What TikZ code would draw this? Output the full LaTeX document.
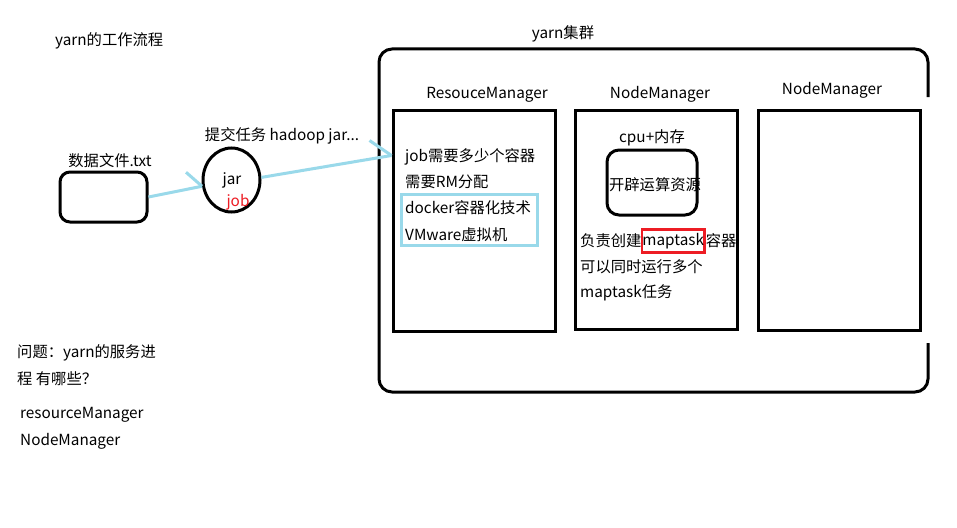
\documentclass[tikz,border=0pt]{standalone}
\usepackage{fontspec}
\setmainfont{Noto Sans CJK SC}
\usetikzlibrary{shapes.geometric,calc}
\definecolor{pblue}{HTML}{99D9EA}
\definecolor{pred}{HTML}{ED1C24}
\begin{document}
\begin{tikzpicture}[x=1pt,y=-1pt,
  txt/.style={inner sep=0pt,font=\fontsize{15.3}{18}\selectfont},
  lbl/.style={txt,anchor=west},
  blk/.style={draw=black,line width=3pt},
  blueline/.style={draw=pblue,line width=3pt},
  redbox/.style={draw=pred,line width=2.5pt}]
\useasboundingbox (0,0) rectangle (957,527);
\fill[white] (0,0) rectangle (957,527);
% titles
\node[lbl] (title) at (55,41) {yarn的工作流程};
\node[txt] (cl) at (563,34) {yarn集群};
% cluster frame
\draw[blk,rounded corners=13] (928,97) -- (928,49) -- (379,49) -- (379,392) -- (928,392) -- (928,343);
% managers
\node[txt] (rml) at (487,95) {ResouceManager};
\node[txt] (nm1l) at (660,94) {NodeManager};
\node[txt] (nm2l) at (832,90) {NodeManager};
\node[blk,minimum width=162,minimum height=221,inner sep=0pt] (rm) at (474,220.5) {};
\node[blk,minimum width=162,minimum height=219,inner sep=0pt] (nm1) at (656,219.5) {};
\node[blk,minimum width=162,minimum height=220,inner sep=0pt] (nm2) at (839,220) {};
% RM content
\node[lbl] (r1) at (405,157) {job需要多少个容器};
\node[lbl] (r2) at (405,182) {需要RM分配};
\node[lbl] (r3) at (405,208) {docker容器化技术};
\node[lbl] (r4) at (405,235) {VMware虚拟机};
\node[draw=pblue,line width=3pt,minimum width=136,minimum height=51,inner sep=0pt] (bb) at (469,219.5) {};
% NM1 content
\node[txt] (cpu) at (652,138) {cpu+内存};
\node[blk,rounded corners=12,minimum width=90,minimum height=65,inner sep=0pt] (res) at (652,182.5) {};
\node[txt] (kp) at (655,185) {开辟运算资源};
\node[lbl] (n1) at (580,241) {负责创建};
\node[txt,anchor=west,redbox,inner xsep=0.5pt,minimum height=23] (mt) at ($(n1.east)+(-1,0)$) {maptask};
\node[txt,anchor=west] (n1b) at (mt.east) {容器};
\node[lbl] (n2) at (580,267) {可以同时运行多个};
\node[lbl] (n3) at (580,293) {maptask任务};
% data file and jar
\node[txt] (dl) at (110,161) {数据文件.txt};
\node[blk,rounded corners=10,minimum width=87,minimum height=50,inner sep=0pt] (data) at (103.5,197) {};
\node[blk,ellipse,minimum width=57,minimum height=64,inner sep=0pt] (jar) at (231.5,180) {};
\node[txt] (jt) at (232,180) {jar};
\node[txt,text=pred] (jb) at (238,202) {job};
\node[txt] (sub) at (282,136) {提交任务 hadoop jar...};
% connectors
\draw[blueline] (data.east) -- (jar.192);
\draw[blueline] (jar.192) -- ++(-16,-14);
\coordinate (rmin) at ($(rm.north west)+(0,47)$);
\draw[blueline] (jar.5) -- (rmin);
\draw[blueline] (rmin) -- ++(-22,-15);
% bottom-left notes
\node[lbl] (q1) at (17,353) {问题：yarn的服务进};
\node[lbl] (q2) at (17,379) {程 有哪些？};
\node[lbl] (a1) at (20,415) {resourceManager};
\node[lbl] (a2) at (20,441) {NodeManager};
\end{tikzpicture}
\end{document}
